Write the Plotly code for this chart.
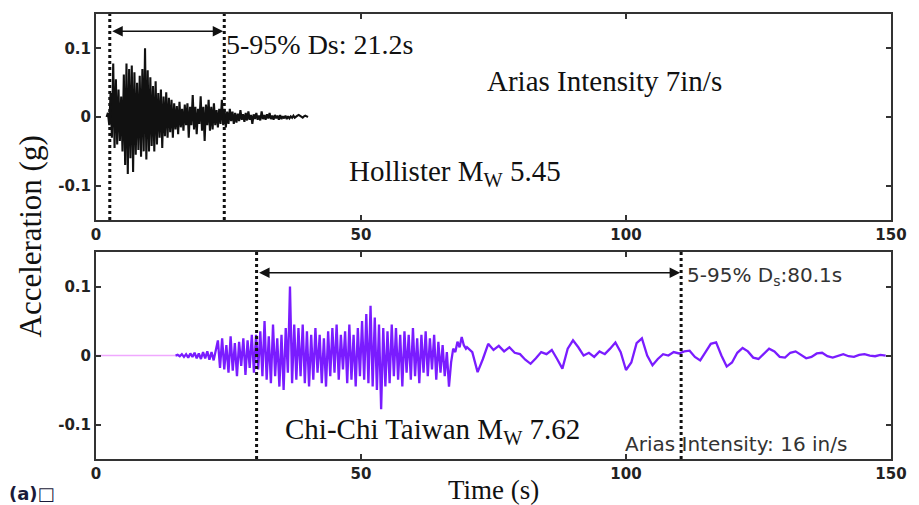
import plotly.graph_objects as go

# ---------------- data ----------------
# Hollister record: sampled every 0.25 s starting at 2.0 s (values in g)
hollister_t0 = 2.0
hollister_dt = 0.25
hollister_acc = [
    0.000, 0.006, -0.012, 0.035, -0.030, 0.078, -0.045, 0.055, -0.040, 0.040,
    -0.035, 0.030, -0.050, 0.062, -0.070, 0.078, -0.083, 0.070, -0.060, 0.075,
    -0.080, 0.065, -0.055, 0.050, -0.048, 0.060, -0.058, 0.070, -0.050, 0.100,
    -0.062, 0.068, -0.050, 0.058, -0.042, 0.045, -0.050, 0.052, -0.040, 0.035,
    -0.030, 0.040, -0.045, 0.030, -0.028, 0.036, -0.030, 0.028, -0.022, 0.025,
    -0.030, 0.020, -0.018, 0.016, -0.025, 0.022, -0.015, 0.012, -0.020, 0.018,
    -0.012, 0.020, -0.030, 0.015, -0.012, 0.032, -0.018, 0.015, -0.025, 0.012,
    -0.010, 0.030, -0.020, 0.015, -0.035, 0.018, -0.012, 0.025, -0.020, 0.015,
    -0.018, 0.020, -0.012, 0.010, -0.015, 0.012, -0.010, 0.025, -0.012, 0.012,
    -0.015, 0.008, -0.010, 0.012, -0.006, 0.008, -0.010, 0.006, -0.008, 0.005,
    -0.006, 0.010, -0.004, 0.004, -0.007, 0.006, -0.005, 0.008, -0.004, 0.003,
    -0.010, 0.004, -0.003, 0.006, -0.004, 0.002, -0.005, 0.008, -0.003, 0.003,
    -0.004, 0.004, -0.002, 0.006, -0.003, 0.002, -0.004, 0.003, -0.002, 0.002,
    -0.004, 0.003, -0.003, 0.001, -0.002, 0.002, -0.003, 0.001, -0.002, 0.001,
    -0.001, 0.002, -0.001, 0.001, 0.002, 0.003, 0.002, 0.000, -0.001, 0.001,
    0.002, 0.001, 0.000,
]

# Chi-Chi record: quiet pre-event part
chichi_pre_t = [0.0, 15.0]
chichi_pre_acc = [0.0, 0.0]
# strong-motion part, sampled every 0.4 s starting at 15.0 s
chichi_strong_t0 = 15.0
chichi_strong_dt = 0.4
chichi_strong_acc = [
    0.000, 0.001, -0.001, 0.002, -0.002, 0.002, -0.003, 0.003, -0.002, 0.004,
    -0.004, 0.003, -0.005, 0.005, -0.004, 0.006, -0.006, 0.005, -0.007, 0.006,
    0.022, -0.018, 0.025, -0.020, 0.015, -0.025, 0.028, -0.022, 0.018, -0.030,
    0.020, -0.015, 0.025, -0.028, 0.022, -0.018, 0.030, -0.025, 0.030, -0.020,
    0.035, -0.030, 0.050, -0.035, 0.028, -0.040, 0.045, -0.030, 0.025, -0.045,
    0.030, -0.050, 0.040, -0.025, 0.100, -0.040, 0.045, -0.035, 0.040, -0.030,
    0.045, -0.040, 0.035, -0.045, 0.030, -0.035, 0.040, -0.025, 0.030, -0.040,
    0.025, -0.045, 0.035, -0.030, 0.040, -0.025, 0.045, -0.035, 0.030, -0.020,
    0.035, -0.040, 0.045, -0.035, 0.030, -0.045, 0.040, -0.030, 0.050, -0.035,
    0.060, -0.040, 0.072, -0.045, 0.055, -0.050, 0.045, -0.078, 0.040, -0.045,
    0.035, -0.040, 0.045, -0.030, 0.040, -0.035, 0.030, -0.045, 0.035, -0.025,
    0.030, -0.035, 0.040, -0.030, 0.025, -0.040, 0.030, -0.025, 0.035, -0.030,
    0.025, -0.020, 0.030, -0.035, 0.020, -0.025, 0.015, -0.030, 0.005, -0.045,
    -0.010, 0.010, 0.005, 0.020, 0.012, 0.027, 0.015, 0.010,
]
# coda part, sampled every 1 s starting at 70 s
chichi_coda_t0 = 70.0
chichi_coda_dt = 1.0
chichi_coda_acc = [
    0.012, 0.005, -0.024, -0.005, 0.017, 0.008, 0.014, 0.006, 0.012, 0.004,
    0.002, -0.006, -0.012, -0.004, 0.005, 0.002, 0.008, -0.005, -0.019, 0.010,
    0.022, 0.012, 0.000, 0.004, -0.002, 0.006, 0.002, 0.010, 0.019, 0.005,
    -0.021, -0.010, 0.018, 0.025, 0.000, -0.014, -0.005, 0.002, 0.000, 0.005,
    0.003, 0.006, 0.007, -0.002, -0.007, 0.005, 0.017, 0.019, 0.000, -0.016,
    -0.010, 0.004, 0.011, 0.006, -0.003, -0.005, 0.003, 0.010, 0.006, -0.002,
    -0.003, 0.004, 0.006, 0.001, -0.004, -0.002, 0.003, 0.004, -0.001, -0.003,
    0.000, 0.002, -0.001, -0.002, 0.001, 0.002, 0.000, -0.001, 0.001, 0.000,
]

# 5-95% significant duration bounds (s)
hollister_ds = [2.6, 24.2]
chichi_ds = [30.3, 110.4]

x_ticks = [0, 50, 100, 150]
y_ticks = [-0.1, 0, 0.1]
y_tick_labels = ["-0.1", "0", "0.1"]


def times(t0, dt, n):
    return [t0 + dt * i for i in range(n)]


SERIF = "Liberation Serif, Times New Roman, serif"
SANS = "DejaVu Sans, Verdana, sans-serif"

fig = go.Figure()

fig.add_trace(go.Scatter(
    x=times(hollister_t0, hollister_dt, len(hollister_acc)), y=hollister_acc,
    mode="lines", line=dict(color="#111111", width=2.1),
    xaxis="x", yaxis="y", showlegend=False))

fig.add_trace(go.Scatter(
    x=chichi_pre_t, y=chichi_pre_acc, mode="lines",
    line=dict(color="#f0a8ff", width=1.6),
    xaxis="x2", yaxis="y2", showlegend=False))

fig.add_trace(go.Scatter(
    x=times(chichi_strong_t0, chichi_strong_dt, len(chichi_strong_acc)) +
      times(chichi_coda_t0, chichi_coda_dt, len(chichi_coda_acc)),
    y=chichi_strong_acc + chichi_coda_acc,
    mode="lines", line=dict(color="#7a1cff", width=2.3),
    xaxis="x2", yaxis="y2", showlegend=False))

tick_font = dict(family=SANS, size=15, color="#222", weight="bold")
axis_common = dict(
    range=[0, 150], tickvals=x_ticks, ticks="inside", ticklen=5,
    tickwidth=1.5, tickcolor="#333", showline=True, linecolor="#333",
    linewidth=2, mirror="ticks", showgrid=False, zeroline=False,
    tickfont=tick_font,
)
yaxis_common = dict(
    range=[-0.15, 0.15], tickvals=y_ticks, ticktext=y_tick_labels,
    ticks="inside", ticklen=5, tickwidth=1.5, tickcolor="#333",
    showline=True, linecolor="#333", linewidth=2, mirror="ticks",
    showgrid=False, zeroline=False, tickfont=tick_font,
)

fig.update_layout(
    width=919, height=505,
    margin=dict(l=96, r=17, t=14, b=46),
    paper_bgcolor="white", plot_bgcolor="white",
    xaxis=dict(domain=[0, 1], anchor="y", **axis_common),
    yaxis=dict(domain=[0.537, 1], anchor="x", **yaxis_common),
    xaxis2=dict(domain=[0, 1], anchor="y2", **axis_common),
    yaxis2=dict(domain=[0, 0.465], anchor="x2", **yaxis_common),
)

# dotted duration lines
shapes = []
for xv in hollister_ds:
    shapes.append(dict(type="line", xref="x", yref="y domain", x0=xv, x1=xv,
                       y0=0, y1=1, line=dict(color="#111", width=3, dash="dot")))
for xv in chichi_ds:
    shapes.append(dict(type="line", xref="x2", yref="y2 domain", x0=xv, x1=xv,
                       y0=0, y1=1, line=dict(color="#111", width=3, dash="dot")))
fig.update_layout(shapes=shapes)

ann = []
# double arrows
ann.append(dict(x=hollister_ds[1], y=0.125, ax=hollister_ds[0], ay=0.125,
                xref="x", yref="y", axref="x", ayref="y", text="",
                showarrow=True, arrowhead=2, arrowside="end+start",
                arrowsize=1.4, arrowwidth=1.5, arrowcolor="#111",
                standoff=1, startstandoff=1))
ann.append(dict(x=chichi_ds[1], y=0.12, ax=chichi_ds[0], ay=0.12,
                xref="x2", yref="y2", axref="x2", ayref="y2", text="",
                showarrow=True, arrowhead=2, arrowside="end+start",
                arrowsize=1.4, arrowwidth=1.5, arrowcolor="#111",
                standoff=1, startstandoff=1))

ann += [
    dict(x=42.2, y=0.106, xref="x", yref="y", text="5-95% Ds: 21.2s",
         showarrow=False, font=dict(family=SERIF, size=28, color="#111")),
    dict(x=96.0, y=0.052, xref="x", yref="y", text="Arias Intensity 7in/s",
         showarrow=False, font=dict(family=SERIF, size=29, color="#111")),
    dict(x=67.7, y=-0.081, xref="x", yref="y",
         text="Hollister M<sub>W</sub> 5.45",
         showarrow=False, font=dict(family=SERIF, size=29, color="#111")),
    dict(x=111.1, y=0.116, xref="x2", yref="y2", xanchor="left",
         text="5-95% D<sub>s</sub>:80.1s",
         showarrow=False, font=dict(family=SANS, size=20, color="#333")),
    dict(x=63.5, y=-0.109, xref="x2", yref="y2",
         text="Chi-Chi Taiwan M<sub>W</sub> 7.62",
         showarrow=False, font=dict(family=SERIF, size=29, color="#111")),
    dict(x=99.4, y=-0.128, xref="x2", yref="y2", xanchor="left",
         text="Arias Intensity: 16 in/s",
         showarrow=False, font=dict(family=SANS, size=20, color="#333")),
    dict(x=0, y=0, xref="paper", yref="paper", xanchor="left",
         yanchor="middle", text="<b>(a)\u25a1</b>", showarrow=False,
         xshift=-89, yshift=-34,
         font=dict(family=SANS, size=18, color="#1a1a3a")),
    dict(x=0.5, y=0, xref="paper", yref="paper", yanchor="middle",
         yshift=-31, text="Time (s)", showarrow=False,
         font=dict(family=SERIF, size=27, color="#111")),
    dict(x=0, y=0.5, xref="paper", yref="paper", xanchor="center",
         xshift=-66, yshift=0, text="Acceleration (g)", textangle=-90,
         showarrow=False, font=dict(family=SERIF, size=31, color="#111")),
]
fig.update_layout(annotations=ann)

fig.write_html("out.html",
               config={"displayModeBar": False},
               post_script="document.body.style.margin='0';"
                           "document.body.style.overflow='hidden';")
